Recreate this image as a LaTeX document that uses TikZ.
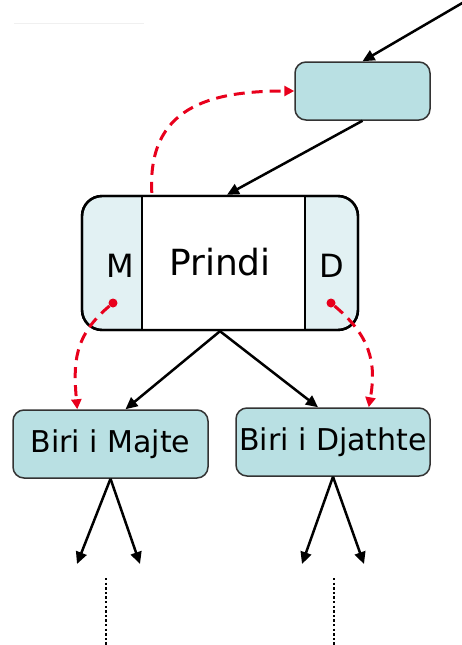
\documentclass[tikz,border=0pt]{standalone}
\usepackage{fontspec}
\setmainfont{DejaVu Sans}
\usetikzlibrary{arrows.meta,calc}

\definecolor{boxfill}{HTML}{B9E0E3}
\definecolor{sidefill}{HTML}{E2F1F3}
\definecolor{boxline}{HTML}{333333}
\definecolor{linkred}{HTML}{E8001C}

\begin{document}
\begin{tikzpicture}[
		x=1pt, y=-1pt,
		treebox/.style={draw=boxline, line width=1.5pt, fill=boxfill, rounded corners=11pt,
			inner sep=0pt, font=\fontsize{30}{30}\selectfont},
		parentbox/.style={draw=black, line width=2.4pt, fill=sidefill, rounded corners=20pt,
			minimum width=276pt, minimum height=134pt, inner sep=0pt},
		edge/.style={draw=black, line width=2.5pt, -{Triangle[length=12pt,width=11pt]}},
		link/.style={draw=linkred, line width=3pt, dash pattern=on 11pt off 7pt,
			-{Triangle[length=10pt,width=10pt]}},
		linkdot/.style={circle, fill=linkred, inner sep=0pt, minimum size=9pt}
	]
	\useasboundingbox (0,0) rectangle (462,645);
	\draw[black!6, line width=1pt] (14,23) -- (144,23);

	% the node above and its incoming pointer
	\coordinate (entry) at (464,2);
	\node[treebox, minimum width=135pt, minimum height=58pt] (upper) at (362.5,91) {};

	% parent node: two side fields around the key
	\node[parentbox] (prindi) at (220,263) {};
	\fill[white] (142,197) rectangle (305,329);
	\draw[black, line width=1.3pt] (142,197) -- (142,329) (305,197) -- (305,329);
	\node[parentbox, fill=none] at (220,263) {};
	\node[font=\fontsize{32}{32}\selectfont] (mleft) at (120,266) {M};
	\node[font=\fontsize{36}{36}\selectfont] (key) at (220,262) {Prindi};
	\node[font=\fontsize{32}{32}\selectfont] (dright) at (332,266) {D};
	\node[linkdot] (mdot) at (113,303) {};
	\node[linkdot] (ddot) at (331,303) {};

	% children
	\node[treebox, minimum width=195pt, minimum height=68pt] (majte) at (110.5,444) {Biri i Majte};
	\node[treebox, minimum width=194pt, minimum height=68pt] (djathte) at (333,442) {Biri i Djathte};

	\draw[edge] (entry) -- (upper.north);
	\draw[edge] (upper.south) -- ($(prindi.north)+(7,0)$);
	\draw[edge] (prindi.south) -- ($(majte.north)+(15,0)$);
	\draw[edge] (prindi.south) -- ($(djathte.north)+(-15,0)$);

	% parent pointer and child pointers
	\draw[link] ($(prindi.north west)+(71,-2)$) to[out=93, in=180, looseness=1.25] (upper.west);
	\draw[link] (mdot) to[out=220, in=95, looseness=1.1] ($(majte.north west)+(65,0)$);
	\draw[link] (ddot) to[out=-40, in=80, looseness=1.1] ($(djathte.north east)+(-62,0)$);

	% subtrees below
	\coordinate (ml) at (77,564);
	\coordinate (mr) at (140,564);
	\coordinate (dl) at (302,564);
	\coordinate (dr) at (364,564);
	\draw[edge] (majte.south) -- (ml);
	\draw[edge] (majte.south) -- (mr);
	\draw[edge] (djathte.south) -- (dl);
	\draw[edge] (djathte.south) -- (dr);
	\draw[line width=2.8pt, dash pattern=on 2.4pt off 2.2pt] (106,578) -- (106,645);
	\draw[line width=2.8pt, dash pattern=on 2.4pt off 2.2pt] (334,578) -- (334,645);
\end{tikzpicture}
\end{document}
